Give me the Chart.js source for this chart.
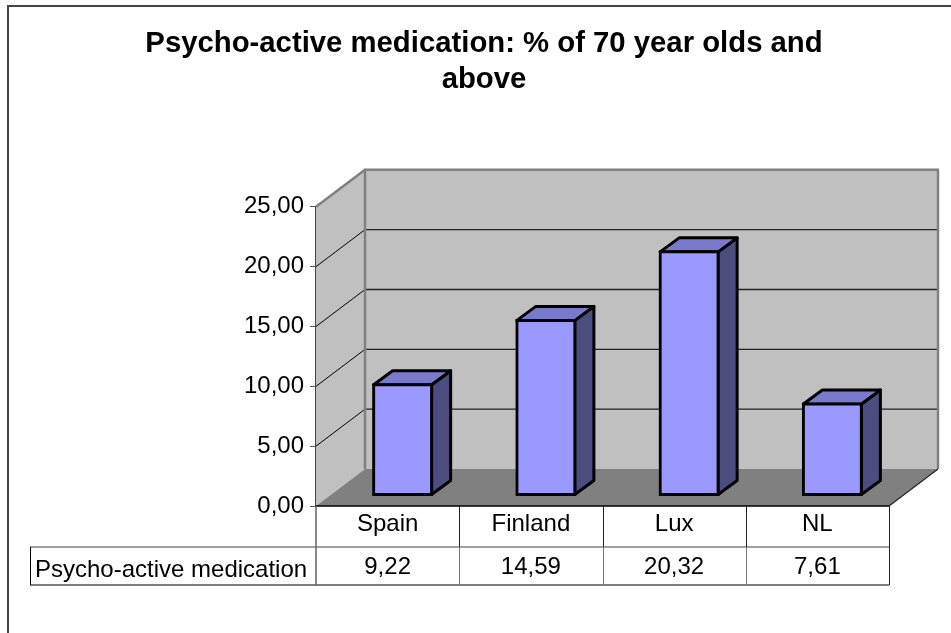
<!DOCTYPE html>
<html>
<head>
<meta charset="utf-8">
<title>Psycho-active medication</title>
<script src="https://cdn.jsdelivr.net/npm/chart.js@4.4.0/dist/chart.umd.min.js"></script>
<style>
  html, body { margin: 0; padding: 0; background: #fff; }
  #wrap { width: 951px; height: 633px; }
</style>
</head>
<body>
<div id="wrap"><canvas id="chart" width="951" height="633"></canvas></div>
<script>
const titleLines = ['Psycho-active medication: % of 70 year olds and', 'above'];
const categories = ['Spain', 'Finland', 'Lux', 'NL'];
const seriesName = 'Psycho-active medication';
const seriesValues = [9.22, 14.59, 20.32, 7.61];
const yTicks = [0, 5, 10, 15, 20, 25];

const FONT = '"Liberation Sans", Arial, sans-serif';
const comma = v => v.toFixed(2).replace('.', ',');

// depth of the fake 3D box
const DX = 49, DY = 37;
const BAR_DX = 15, BAR_DY = 11, BAR_SIDE_X = 19, BAR_SIDE_Y = 14;

function poly(ctx, pts, fill, stroke, lw) {
  ctx.beginPath();
  pts.forEach((p, i) => i ? ctx.lineTo(p[0], p[1]) : ctx.moveTo(p[0], p[1]));
  ctx.closePath();
  if (fill) { ctx.fillStyle = fill; ctx.fill(); }
  if (stroke) { ctx.strokeStyle = stroke; ctx.lineWidth = lw; ctx.stroke(); }
}

function line(ctx, x1, y1, x2, y2, color, lw) {
  ctx.beginPath();
  ctx.moveTo(x1, y1);
  ctx.lineTo(x2, y2);
  ctx.strokeStyle = color;
  ctx.lineWidth = lw;
  ctx.stroke();
}

const box3d = {
  id: 'box3d',
  beforeDatasetsDraw(chart) {
    const { ctx, chartArea: a, scales: { y } } = chart;
    const top = y.getPixelForValue(25), zero = y.getPixelForValue(0);
    ctx.save();
    // стены
    poly(ctx, [[a.left + DX, top - DY], [a.right + DX, top - DY], [a.right + DX, zero - DY], [a.left + DX, zero - DY]], '#c0c0c0');
    poly(ctx, [[a.left, top], [a.left + DX, top - DY], [a.left + DX, zero - DY], [a.left, zero]], '#c0c0c0');
    // пол
    poly(ctx, [[a.left, zero], [a.right, zero], [a.right + DX, zero - DY], [a.left + DX, zero - DY]], '#808080');
    // сетка
    yTicks.slice(1, -1).forEach(t => {
      const py = y.getPixelForValue(t);
      line(ctx, a.left, py, a.left + DX, py - DY, '#000', 1);
      line(ctx, a.left + DX, py - DY, a.right + DX, py - DY, '#222', 1.3);
    });
    // рамка стен
    line(ctx, a.left, top, a.left + DX, top - DY, '#808080', 2.5);
    line(ctx, a.left + DX - 1, top - DY, a.right + DX + 1, top - DY, '#808080', 2.5);
    line(ctx, a.left + DX, top - DY, a.left + DX, zero - DY, '#808080', 2.5);
    line(ctx, a.right + DX, top - DY, a.right + DX, zero - DY, '#808080', 2.5);
    line(ctx, a.right + DX, zero - DY, a.right, zero, '#222', 1.2);
    ctx.restore();

    // боковые грани столбиков
    const meta = chart.getDatasetMeta(0);
    ctx.save();
    ctx.translate(BAR_DX, -BAR_DY);
    ctx.lineJoin = 'round';
    meta.data.forEach(bar => {
      const l = bar.x - bar.width / 2, r = bar.x + bar.width / 2;
      poly(ctx, [[r, bar.y], [r + BAR_SIDE_X, bar.y - BAR_SIDE_Y], [r + BAR_SIDE_X, bar.base - BAR_SIDE_Y], [r, bar.base]], '#4c4c80', '#000', 3);
      poly(ctx, [[l, bar.y], [l + BAR_SIDE_X, bar.y - BAR_SIDE_Y], [r + BAR_SIDE_X, bar.y - BAR_SIDE_Y], [r, bar.y]], '#7a7acc', '#000', 3);
    });
    // лицевая грань рисует сама библиотека, со сдвигом
  },
  afterDatasetsDraw(chart) {
    chart.ctx.restore();
  },
  afterDraw(chart) {
    const { ctx, chartArea: a, scales: { y } } = chart;
    const zero = y.getPixelForValue(0);
    const row1 = 547, row2 = 585, labelLeft = 30;
    const colW = (a.right - a.left) / categories.length;
    ctx.save();
    // таблица данных
    line(ctx, a.left, zero, a.right, zero, '#000', 1.3);
    line(ctx, labelLeft, row1, a.right, row1, '#808080', 1.5);
    line(ctx, labelLeft, row2, a.right, row2, '#000', 1);
    line(ctx, labelLeft + 0.5, row1, labelLeft + 0.5, row2, '#000', 1);
    for (let i = 1; i <= categories.length; i++) {
      const x = Math.round(a.left + colW * i) + 0.5;
      line(ctx, x, zero, x, row1, '#222', 1);
      line(ctx, x, row1, x, row2, i === categories.length ? '#222' : '#777', 1);
    }
    line(ctx, a.left, zero, a.left, row2 + 0.5, '#666', 1.5);
    ctx.fillStyle = '#000';
    ctx.font = '24px ' + FONT;
    ctx.textBaseline = 'alphabetic';
    ctx.textAlign = 'center';
    seriesValues.forEach((v, i) => ctx.fillText(comma(v), a.left + colW * (i + 0.5), 574));
    ctx.textAlign = 'left';
    ctx.fillText(seriesName, 35, 577);
    // рамка диаграммы: справа и снизу её нет
    line(ctx, 7, 6, 951, 6, '#444', 2);
    line(ctx, 8, 5, 8, 633, '#444', 2);
    ctx.restore();
  }
};

new Chart(document.getElementById('chart'), {
  type: 'bar',
  data: {
    labels: categories,
    datasets: [{
      label: seriesName,
      data: seriesValues,
      backgroundColor: '#9999ff',
      borderColor: '#000',
      borderWidth: 3,
      borderSkipped: false,
      inflateAmount: 1.5,
      barPercentage: 0.405,
      categoryPercentage: 1,
      clip: false
    }]
  },
  plugins: [box3d],
  options: {
    responsive: false,
    animation: false,
    layout: { padding: { left: 79, right: 62, top: 0, bottom: 0 } },
    plugins: {
      legend: { display: false },
      tooltip: { enabled: false },
      title: {
        display: true,
        text: titleLines,
        color: '#000',
        font: { family: FONT, size: 29.3, weight: 'bold', lineHeight: 1.26 },
        padding: { top: 25, bottom: 108 }
      }
    },
    scales: {
      x: {
        grid: { display: false, tickLength: 0 },
        border: { display: false },
        ticks: { color: '#000', font: { family: FONT, size: 24 }, padding: 4, maxRotation: 0 },
        afterFit: s => { s.height = 127; }
      },
      y: {
        min: 0,
        max: 25,
        afterBuildTicks: s => { s.ticks = yTicks.map(v => ({ value: v })); },
        grid: { drawOnChartArea: false, drawTicks: true, tickLength: 6, color: '#555' },
        border: { display: true, color: '#444', width: 2 },
        ticks: { color: '#000', font: { family: FONT, size: 24 }, padding: 6, callback: v => comma(v) },
        afterFit: s => { s.width = 237; }
      }
    }
  }
});
</script>
</body>
</html>
